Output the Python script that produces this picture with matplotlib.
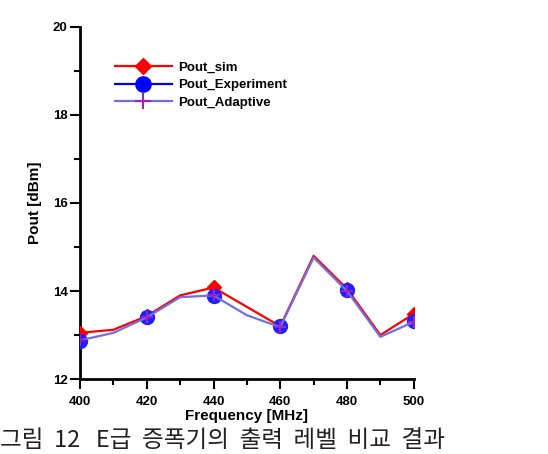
import matplotlib
matplotlib.use("Agg")
import matplotlib.pyplot as plt
from matplotlib.ticker import MultipleLocator

freq_all = [400, 410, 420, 430, 440, 450, 460, 470, 480, 490, 500]
pout_sim = [13.05, 13.12, 13.43, 13.90, 14.08, 13.64, 13.20, 14.80, 14.05, 13.00, 13.48]
pout_adaptive = [12.88, 13.05, 13.40, 13.86, 13.90, 13.45, 13.18, 14.76, 14.00, 12.96, 13.30]
freq_exp = [400, 420, 440, 460, 480, 500]
pout_exp = [12.87, 13.42, 13.89, 13.20, 14.02, 13.33]
freq_mark = [400, 420, 440, 460, 480, 500]
sim_mark = [13.05, 13.43, 14.08, 13.20, 14.05, 13.48]
adap_mark = [12.88, 13.40, 13.90, 13.18, 14.00, 13.30]

plt.rcParams['font.family'] = ['Liberation Sans', 'DejaVu Sans']

fig = plt.figure(figsize=(5.48, 4.54), dpi=100)
ax = fig.add_axes([0.146, 0.165, 0.609, 0.776])

ax.plot(freq_all, pout_sim, color='#ff0000', lw=1.6, zorder=3)
ax.plot(freq_mark, sim_mark, ls='none', marker='D', ms=7, color='#ff0000', zorder=3)
ax.plot(freq_exp, pout_exp, ls='none', marker='o', ms=10, color='#2020ff', zorder=4)
ax.plot(freq_all, pout_adaptive, color='#7070e0', lw=1.6, zorder=5)
ax.plot(freq_mark, adap_mark, ls='none', marker='+', ms=9, mew=1.5, color='#a020c0', zorder=6)

# legend proxies
h1, = ax.plot([], [], color='#ff0000', lw=1.6, marker='D', ms=8, label='Pout_sim')
h2, = ax.plot([], [], color='#0000ff', lw=1.6, marker='o', ms=11, label='Pout_Experiment')
h3, = ax.plot([], [], color='#7070e0', lw=1.6, marker='+', ms=12, mew=1.5, mec='#a020c0', label='Pout_Adaptive')
leg = ax.legend(handles=[h1, h2, h3], loc='center left', bbox_to_anchor=(0.105, 0.834),
                frameon=False, handlelength=4.3, handletextpad=0.45, labelspacing=0.4,
                borderaxespad=0, borderpad=0,
                prop={'weight': 'bold', 'size': 9.5})

ax.set_xlim(400, 500)
ax.set_ylim(12, 20)
ax.xaxis.set_major_locator(MultipleLocator(20))
ax.xaxis.set_minor_locator(MultipleLocator(10))
ax.yaxis.set_major_locator(MultipleLocator(2))
ax.yaxis.set_minor_locator(MultipleLocator(1))
for s in ['top', 'right']:
    ax.spines[s].set_visible(False)
for s in ['left', 'bottom']:
    ax.spines[s].set_linewidth(2)
ax.tick_params(which='both', direction='out', width=1.5)
ax.tick_params(which='major', length=7, labelsize=9.5)
ax.tick_params(axis='x', which='major', pad=5)
ax.tick_params(axis='y', which='major', pad=2)
ax.tick_params(which='minor', length=4)
for lbl in ax.get_xticklabels() + ax.get_yticklabels():
    lbl.set_fontweight('bold')
ax.set_xlabel('Frequency [MHz]', fontsize=11, fontweight='bold', labelpad=1)
ax.set_ylabel('Pout [dBm]', fontsize=11, fontweight='bold', labelpad=8)

fig.text(0.0, 0.004, '그림  12   E급  증폭기의  출력  레벨  비교  결과', fontsize=17,
         family=['Noto Sans CJK KR', 'DejaVu Sans'], color='#222222', va='bottom', ha='left')

fig.savefig('out.png', dpi=100)
